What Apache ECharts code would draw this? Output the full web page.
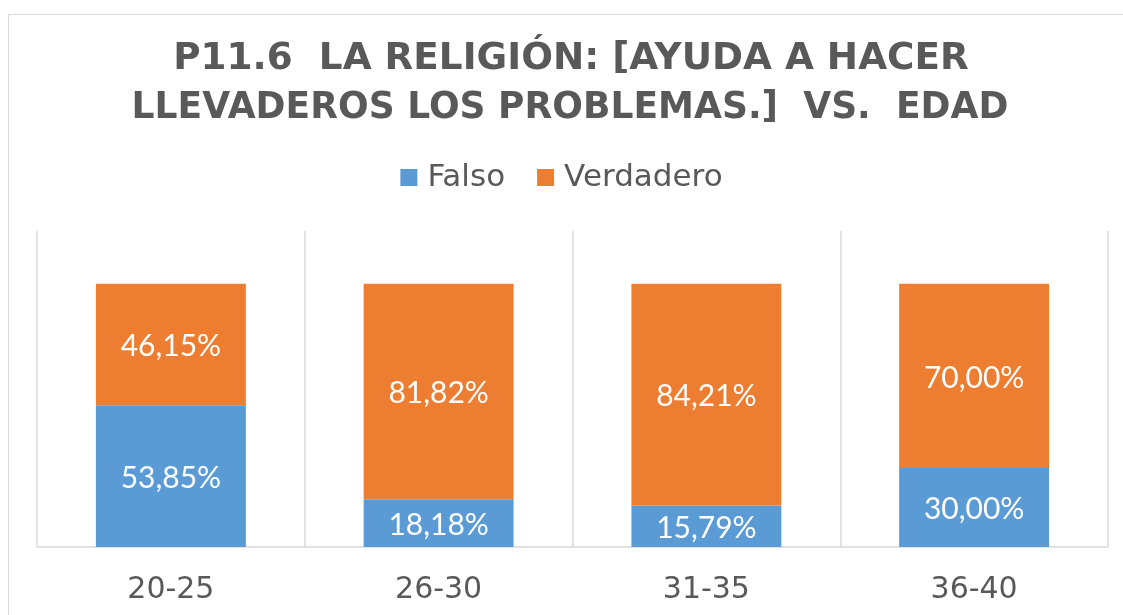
<!DOCTYPE html>
<html>
<head>
<meta charset="utf-8">
<script src="https://cdn.jsdelivr.net/npm/echarts@6/dist/echarts.min.js"></script>
<style>
html,body{margin:0;padding:0;background:#fff;}
#c{width:1123px;height:615px;}
</style>
</head>
<body>
<div id="c"></div>
<script>
const titleLines = ['P11.6  LA RELIGIÓN: [AYUDA A HACER', 'LLEVADEROS LOS PROBLEMAS.]  VS.  EDAD'];
const categories = ['20-25', '26-30', '31-35', '36-40'];
const seriesNames = ['Falso', 'Verdadero'];
const falso = [53.85, 18.18, 15.79, 30.00];
const verdadero = [46.15, 81.82, 84.21, 70.00];

const chart = echarts.init(document.getElementById('c'));
const fmt = p => p.value.toFixed(2).replace('.', ',') + '%';
const labelStyle = {show: true, position: 'inside', offset: [0, 2], color: '#fff', fontSize: 30, fontFamily: 'Lato', formatter: fmt};
const titleFont = {fontFamily: 'DejaVu Sans', fontWeight: 'bold', fontSize: 37, fill: '#595959', align: 'center', verticalAlign: 'middle'};
chart.setOption({
  backgroundColor: '#fff',
  animation: false,
  graphic: [
    {type: 'rect', shape: {x: 8.5, y: 14.5, width: 1300, height: 800}, style: {fill: 'none', stroke: '#d9d9d9', lineWidth: 1}, silent: true},
    {type: 'text', x: 571, y: 59, scaleX: 1.01, style: Object.assign({text: titleLines[0]}, titleFont), silent: true},
    {type: 'text', x: 570, y: 108, scaleX: 0.975, style: Object.assign({text: titleLines[1]}, titleFont), silent: true}
  ],
  legend: {
    data: seriesNames, top: 157, left: 'center',
    itemWidth: 17, itemHeight: 17, itemGap: 32, icon: 'rect',
    textStyle: {fontFamily: 'DejaVu Sans', fontSize: 31, color: '#595959', padding: [0, 0, 0, 5]}
  },
  grid: {left: 37, right: 15, top: 231, bottom: 68},
  xAxis: {
    type: 'category', data: categories,
    axisTick: {show: false},
    axisLine: {lineStyle: {color: '#d9d9d9', width: 1.5}},
    splitLine: {show: true, lineStyle: {color: '#d9d9d9', width: 1.5}},
    axisLabel: {fontFamily: 'DejaVu Sans', fontSize: 30, color: '#595959', margin: 28}
  },
  yAxis: {type: 'value', min: 0, max: 120, show: false, splitLine: {show: false}},
  series: [
    {name: seriesNames[0], type: 'bar', stack: 's', data: falso, barWidth: '56%', itemStyle: {color: '#5B9BD5'}, label: labelStyle},
    {name: seriesNames[1], type: 'bar', stack: 's', data: verdadero, barWidth: '56%', itemStyle: {color: '#ED7D31'}, label: labelStyle}
  ]
});
</script>
</body>
</html>
